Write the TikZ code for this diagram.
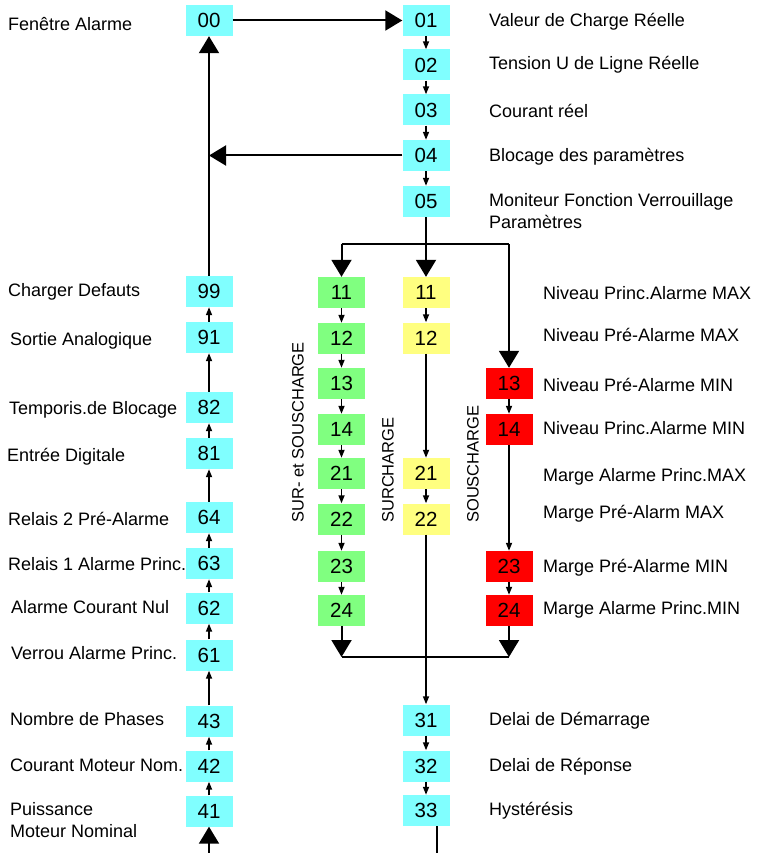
\documentclass[tikz,border=0pt]{standalone}
\usepackage{fontspec}
\setmainfont{Liberation Sans}
\usetikzlibrary{arrows.meta}
\definecolor{cy}{HTML}{80FFFF}
\definecolor{gr}{HTML}{80FF80}
\definecolor{ye}{HTML}{FFFF80}
\definecolor{rd}{HTML}{FF0000}
\begin{document}
\begin{tikzpicture}[x=1pt,y=-1pt,
  box/.style={minimum width=47pt,minimum height=31pt,inner sep=0pt,font=\fontsize{20.5}{20.5}\selectfont},
  cbox/.style={box,fill=cy},
  gbox/.style={box,fill=gr},
  ybox/.style={box,fill=ye},
  rbox/.style={box,fill=rd},
  lab/.style={anchor=west,inner sep=0pt,align=left,yshift=-1.5pt,font=\fontsize{18}{22}\selectfont},
  vlab/.style={anchor=west,inner sep=0pt,rotate=90,font=\fontsize{16.5}{16.5}\selectfont},
  sa/.style={-{Triangle[width=6pt,length=8pt]},line width=1.6pt},
  ba/.style={-{Triangle[width=20pt,length=17pt]},line width=2pt},
  ln/.style={line width=2pt}]
\useasboundingbox (0,0) rectangle (759,853);
% top-right column
\node[cbox] (n00) at (209,20.5) {00};
\node[cbox] (n01) at (426,20.5) {01};
\node[cbox] (n02) at (426,65) {02};
\node[cbox] (n03) at (426,110) {03};
\node[cbox] (n04) at (426,155.5) {04};
\node[cbox] (n05) at (426,201.5) {05};
% left column
\node[cbox] (L99) at (209,291.5) {99};
\node[cbox] (L91) at (209,337.5) {91};
\node[cbox] (L82) at (209,407.5) {82};
\node[cbox] (L81) at (209,453.5) {81};
\node[cbox] (L64) at (209,517.5) {64};
\node[cbox] (L63) at (209,563.5) {63};
\node[cbox] (L62) at (209,608) {62};
\node[cbox] (L61) at (209,655) {61};
\node[cbox] (L43) at (209,721) {43};
\node[cbox] (L42) at (209,766) {42};
\node[cbox] (L41) at (209,811) {41};
% green
\node[gbox] (g11) at (341.5,292.5) {11};
\node[gbox] (g12) at (341.5,338.5) {12};
\node[gbox] (g13) at (341.5,383.5) {13};
\node[gbox] (g14) at (341.5,429.5) {14};
\node[gbox] (g21) at (341.5,473.5) {21};
\node[gbox] (g22) at (341.5,519) {22};
\node[gbox] (g23) at (341.5,566.5) {23};
\node[gbox] (g24) at (341.5,610.5) {24};
% yellow
\node[ybox] (y11) at (426,292.5) {11};
\node[ybox] (y12) at (426,338) {12};
\node[ybox] (y21) at (426,473.5) {21};
\node[ybox] (y22) at (426,519) {22};
% red
\node[rbox] (r13) at (509,383.5) {13};
\node[rbox] (r14) at (509,429.5) {14};
\node[rbox] (r23) at (509,566.5) {23};
\node[rbox] (r24) at (509,610.5) {24};
% bottom
\node[cbox] (b31) at (426,720) {31};
\node[cbox] (b32) at (426,766) {32};
\node[cbox] (b33) at (426,810.5) {33};
% labels left
\node[lab] (t00) at (8,23) {Fenêtre Alarme};
\node[lab] (t99) at (8,290) {Charger Defauts};
\node[lab] (t91) at (10,339) {Sortie Analogique};
\node[lab] (t82) at (9,408) {Temporis.de Blocage};
\node[lab] (t81) at (7,455) {Entrée Digitale};
\node[lab] (t64) at (8,517) {Relais 2 Pré-Alarme};
\node[lab] (t63) at (8,563) {Relais 1 Alarme Princ.};
\node[lab] (t62) at (11,606) {Alarme Courant Nul};
\node[lab] (t61) at (11,652) {Verrou Alarme Princ.};
\node[lab] (t43) at (10,718) {Nombre de Phases};
\node[lab] (t42) at (10,764) {Courant Moteur Nom.};
\node[lab] (t41) at (10,819) {Puissance\\Moteur Nominal};
% labels right
\node[lab] (t01) at (489,20) {Valeur de Charge Réelle};
\node[lab] (t02) at (489,63) {Tension U de Ligne Réelle};
\node[lab] (t03) at (489,109) {Courant réel};
\node[lab] (t04) at (489,155) {Blocage des paramètres};
\node[lab] (t05) at (489,210) {Moniteur Fonction Verrouillage\\Paramètres};
\node[lab] (m1) at (543,292) {Niveau Princ.Alarme MAX};
\node[lab] (m2) at (543,333) {Niveau Pré-Alarme MAX};
\node[lab] (m3) at (543,383) {Niveau Pré-Alarme MIN};
\node[lab] (m4) at (543,427) {Niveau Princ.Alarme MIN};
\node[lab] (m5) at (543,475) {Marge Alarme Princ.MAX};
\node[lab] (m6) at (543,512) {Marge Pré-Alarm MAX};
\node[lab] (m7) at (543,566) {Marge Pré-Alarme MIN};
\node[lab] (m8) at (543,608) {Marge Alarme Princ.MIN};
\node[lab] (t31) at (489,719) {Delai de Démarrage};
\node[lab] (t32) at (489,765) {Delai de Réponse};
\node[lab] (t33) at (489,809) {Hystérésis};
% vertical labels
\node[vlab] (v1) at (298,523) {SUR- et SOUSCHARGE};
\node[vlab] (v2) at (388,523) {SURCHARGE};
\node[vlab] (v3) at (473,523) {SOUSCHARGE};
% coordinates
\coordinate (j04) at (209,155.5);
\coordinate (split) at (426,244);
\coordinate (sL) at (341.5,244);
\coordinate (sR) at (509,244);
\coordinate (ml) at (341.5,657);
\coordinate (mr) at (509,657);
\coordinate (lb) at (209,856);
\coordinate (rb) at (437,856);
% connectors top
\draw[ba] (n00.east) -- (n01.west);
\draw[sa] (n01.south) -- (n02.north);
\draw[sa] (n02.south) -- (n03.north);
\draw[sa] (n03.south) -- (n04.north);
\draw[sa] (n04.south) -- (n05.north);
\draw[ba] (n04.west) -- (j04);
\draw[ba] (L99.north) -- (n00.south);
% left chain
\draw[sa] (L91.north) -- (L99.south);
\draw[sa] (L82.north) -- (L91.south);
\draw[sa] (L81.north) -- (L82.south);
\draw[sa] (L64.north) -- (L81.south);
\draw[sa] (L63.north) -- (L64.south);
\draw[sa] (L62.north) -- (L63.south);
\draw[sa] (L61.north) -- (L62.south);
\draw[sa] (L43.north) -- (L61.south);
\draw[sa] (L42.north) -- (L43.south);
\draw[sa] (L41.north) -- (L42.south);
\draw[ba] (lb) -- (L41.south);
% split
\draw[ln] (n05.south) -- (split);
\draw[ln] (sL) -- (sR);
\draw[ba] (sL) -- (g11.north);
\draw[ba] (split) -- (y11.north);
\draw[ba] (sR) -- (r13.north);
% green chain
\draw[sa] (g11.south) -- (g12.north);
\draw[sa] (g12.south) -- (g13.north);
\draw[sa] (g13.south) -- (g14.north);
\draw[sa] (g14.south) -- (g21.north);
\draw[sa] (g21.south) -- (g22.north);
\draw[sa] (g22.south) -- (g23.north);
\draw[sa] (g23.south) -- (g24.north);
% yellow chain
\draw[sa] (y11.south) -- (y12.north);
\draw[sa] (y12.south) -- (y21.north);
\draw[sa] (y21.south) -- (y22.north);
% red chain
\draw[sa] (r13.south) -- (r14.north);
\draw[sa] (r14.south) -- (r23.north);
\draw[sa] (r23.south) -- (r24.north);
% merge
\draw[ba] (g24.south) -- (ml);
\draw[ba] (r24.south) -- (mr);
\draw[ln] (ml) -- (mr);
\draw[sa] (y22.south) -- (b31.north);
\draw[sa] (b31.south) -- (b32.north);
\draw[sa] (b32.south) -- (b33.north);
\draw[ln] (b33.south -| rb) -- (rb);
\end{tikzpicture}
\end{document}
